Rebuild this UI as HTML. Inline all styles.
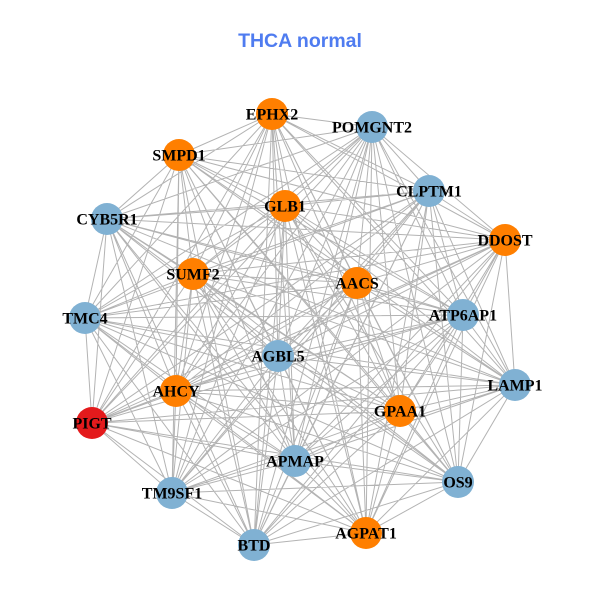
<!DOCTYPE html>
<html><head><meta charset="utf-8"><style>
html,body{margin:0;padding:0;background:#fff;}
svg{display:block;}
</style></head><body>
<svg width="600" height="600" viewBox="0 0 600 600" xmlns="http://www.w3.org/2000/svg">
<rect width="600" height="600" fill="#fff"/>
<text x="300" y="47" text-anchor="middle" font-family="Liberation Sans, sans-serif" font-weight="bold" font-size="19.5" fill="#4f7cf0">THCA normal</text>
<path fill="none" stroke="#b3b3b3" stroke-width="1" d="M272 114L372 127M272 114L179 155M272 114L429 191M272 114L285 206M272 114L107 219M272 114L505 240M272 114L193 274M272 114L357 283M272 114L85 318M272 114L463 315M272 114L278 356M272 114L515 385M272 114L176 391M272 114L400 411M272 114L92 423M272 114L295 461M272 114L458 482M272 114L172 493M272 114L254 545M272 114L366 533
M372 127L179 155M372 127L429 191M372 127L285 206M372 127L107 219M372 127L505 240M372 127L193 274M372 127L357 283M372 127L85 318M372 127L463 315M372 127L278 356M372 127L515 385M372 127L176 391M372 127L400 411M372 127L92 423M372 127L295 461M372 127L458 482M372 127L172 493M372 127L254 545M372 127L366 533
M179 155L429 191M179 155L285 206M179 155L107 219M179 155L505 240M179 155L193 274M179 155L357 283M179 155L85 318M179 155L463 315M179 155L278 356M179 155L515 385M179 155L176 391M179 155L400 411M179 155L92 423M179 155L295 461M179 155L458 482M179 155L172 493M179 155L254 545M179 155L366 533
M429 191L285 206M429 191L107 219M429 191L505 240M429 191L193 274M429 191L357 283M429 191L85 318M429 191L463 315M429 191L278 356M429 191L515 385M429 191L176 391M429 191L400 411M429 191L92 423M429 191L295 461M429 191L458 482M429 191L172 493M429 191L254 545M429 191L366 533
M285 206L107 219M285 206L505 240M285 206L193 274M285 206L357 283M285 206L85 318M285 206L463 315M285 206L278 356M285 206L515 385M285 206L176 391M285 206L400 411M285 206L92 423M285 206L295 461M285 206L458 482M285 206L172 493M285 206L254 545M285 206L366 533
M107 219L505 240M107 219L193 274M107 219L357 283M107 219L85 318M107 219L463 315M107 219L278 356M107 219L515 385M107 219L176 391M107 219L400 411M107 219L92 423M107 219L295 461M107 219L458 482M107 219L172 493M107 219L254 545M107 219L366 533
M505 240L193 274M505 240L357 283M505 240L85 318M505 240L463 315M505 240L278 356M505 240L515 385M505 240L176 391M505 240L400 411M505 240L92 423M505 240L295 461M505 240L458 482M505 240L172 493M505 240L254 545M505 240L366 533
M193 274L357 283M193 274L85 318M193 274L463 315M193 274L278 356M193 274L515 385M193 274L176 391M193 274L400 411M193 274L92 423M193 274L295 461M193 274L458 482M193 274L172 493M193 274L254 545M193 274L366 533
M357 283L85 318M357 283L463 315M357 283L278 356M357 283L515 385M357 283L176 391M357 283L400 411M357 283L92 423M357 283L295 461M357 283L458 482M357 283L172 493M357 283L254 545M357 283L366 533
M85 318L463 315M85 318L278 356M85 318L515 385M85 318L176 391M85 318L400 411M85 318L92 423M85 318L295 461M85 318L458 482M85 318L172 493M85 318L254 545M85 318L366 533
M463 315L278 356M463 315L515 385M463 315L176 391M463 315L400 411M463 315L92 423M463 315L295 461M463 315L458 482M463 315L172 493M463 315L254 545M463 315L366 533
M278 356L515 385M278 356L176 391M278 356L400 411M278 356L92 423M278 356L295 461M278 356L458 482M278 356L172 493M278 356L254 545M278 356L366 533
M515 385L176 391M515 385L400 411M515 385L92 423M515 385L295 461M515 385L458 482M515 385L172 493M515 385L254 545M515 385L366 533
M176 391L400 411M176 391L92 423M176 391L295 461M176 391L458 482M176 391L172 493M176 391L254 545M176 391L366 533
M400 411L92 423M400 411L295 461M400 411L458 482M400 411L172 493M400 411L254 545M400 411L366 533
M92 423L295 461M92 423L458 482M92 423L172 493M92 423L254 545M92 423L366 533
M295 461L458 482M295 461L172 493M295 461L254 545M295 461L366 533
M458 482L172 493M458 482L254 545M458 482L366 533
M172 493L254 545M172 493L366 533
M254 545L366 533"/>
<g>
<circle cx="272" cy="114" r="16" fill="#ff7f00"/>
<circle cx="372" cy="127" r="16" fill="#80b1d3"/>
<circle cx="179" cy="155" r="16" fill="#ff7f00"/>
<circle cx="429" cy="191" r="16" fill="#80b1d3"/>
<circle cx="285" cy="206" r="16" fill="#ff7f00"/>
<circle cx="107" cy="219" r="16" fill="#80b1d3"/>
<circle cx="505" cy="240" r="16" fill="#ff7f00"/>
<circle cx="193" cy="274" r="16" fill="#ff7f00"/>
<circle cx="357" cy="283" r="16" fill="#ff7f00"/>
<circle cx="85" cy="318" r="16" fill="#80b1d3"/>
<circle cx="463" cy="315" r="16" fill="#80b1d3"/>
<circle cx="278" cy="356" r="16" fill="#80b1d3"/>
<circle cx="515" cy="385" r="16" fill="#80b1d3"/>
<circle cx="176" cy="391" r="16" fill="#ff7f00"/>
<circle cx="400" cy="411" r="16" fill="#ff7f00"/>
<circle cx="92" cy="423" r="16" fill="#e41a1c"/>
<circle cx="295" cy="461" r="16" fill="#80b1d3"/>
<circle cx="458" cy="482" r="16" fill="#80b1d3"/>
<circle cx="172" cy="493" r="16" fill="#80b1d3"/>
<circle cx="254" cy="545" r="16" fill="#80b1d3"/>
<circle cx="366" cy="533" r="16" fill="#ff7f00"/>
</g>
<g font-family="Liberation Serif, serif" font-weight="bold" font-size="16" fill="#000" text-anchor="middle">
<text x="272" y="119.5">EPHX2</text>
<text x="372" y="132.5">POMGNT2</text>
<text x="179" y="160.5">SMPD1</text>
<text x="429" y="196.5">CLPTM1</text>
<text x="285" y="211.5">GLB1</text>
<text x="107" y="224.5">CYB5R1</text>
<text x="505" y="245.5">DDOST</text>
<text x="193" y="279.5">SUMF2</text>
<text x="357" y="288.5">AACS</text>
<text x="85" y="323.5">TMC4</text>
<text x="463" y="320.5">ATP6AP1</text>
<text x="278" y="361.5">AGBL5</text>
<text x="515" y="390.5">LAMP1</text>
<text x="176" y="396.5">AHCY</text>
<text x="400" y="416.5">GPAA1</text>
<text x="92" y="428.5">PIGT</text>
<text x="295" y="466.5">APMAP</text>
<text x="458" y="487.5">OS9</text>
<text x="172" y="498.5">TM9SF1</text>
<text x="254" y="550.5">BTD</text>
<text x="366" y="538.5">AGPAT1</text>
</g>
</svg>
</body></html>
